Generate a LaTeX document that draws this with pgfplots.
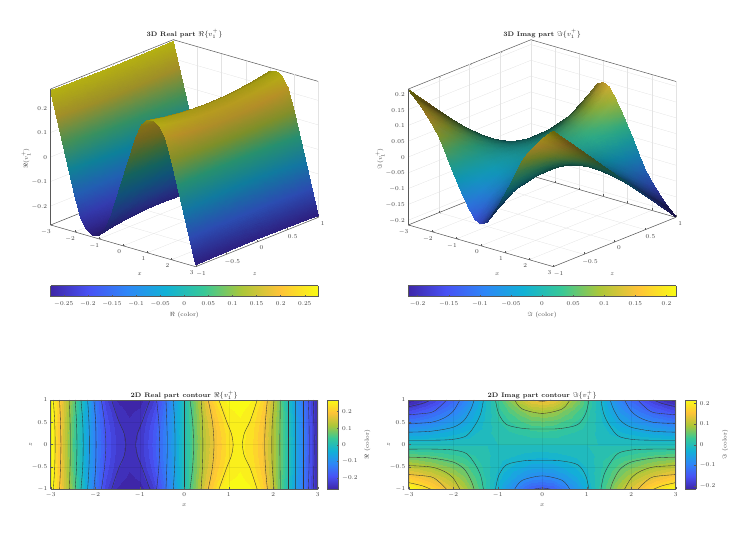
\documentclass[border=0pt]{standalone}
\usepackage{pgfplots}
\usepackage{pgfplotstable}
\pgfplotsset{compat=1.18}
\pgfplotsset{colormap={parula}{rgb=(.2422,.1504,.6603) rgb=(.2810,.3228,.9579) rgb=(.1786,.5289,.9682) rgb=(.0689,.6948,.8394) rgb=(.2161,.7843,.5923) rgb=(.6720,.7793,.2227) rgb=(.9970,.7659,.2199) rgb=(.9769,.9839,.0805)}}
\tikzset{declare function={
 cl(\uu)=max(0,min(1,\uu));
 parR(\tt)=.2422+.0388*cl(7*\tt)-.1024*cl(7*\tt-1)-.1097*cl(7*\tt-2)+.1472*cl(7*\tt-3)+.4559*cl(7*\tt-4)+.3250*cl(7*\tt-5)-.0201*cl(7*\tt-6);
 parG(\tt)=.1504+.1724*cl(7*\tt)+.2061*cl(7*\tt-1)+.1659*cl(7*\tt-2)+.0895*cl(7*\tt-3)-.0050*cl(7*\tt-4)-.0134*cl(7*\tt-5)+.2180*cl(7*\tt-6);
 parB(\tt)=.6603+.2976*cl(7*\tt)+.0103*cl(7*\tt-1)-.1288*cl(7*\tt-2)-.2471*cl(7*\tt-3)-.3696*cl(7*\tt-4)-.0028*cl(7*\tt-5)-.1394*cl(7*\tt-6);
 lightR(\pa)=.52+.2*cl((abs(\pa)-.9)/.5);
}}
\newcommand\NX{(1.96*sin(60*\thisrow{a})*\thisrow{b})}
\newcommand\NY{(3.53*(.033-.177*cos(60*\thisrow{a})))}
\newcommand\LI{(cl(.3+.7*abs(.604*\NX-.718*\NY+.34)/sqrt(\NX*\NX+\NY*\NY+1)))}
\pgfplotstableread[row sep=\\]{
a b c\\
-3 1 .270\\ -3 .75 .268\\ -3 .5 .267\\ -3 .25 .266\\ -3 0 .265\\ -3 -.25 .266\\ -3 -.5 .267\\ -3 -.75 .268\\ -3 -1 .270\\
-2.75 1 .170\\ -2.75 .75 .166\\ -2.75 .5 .163\\ -2.75 .25 .161\\ -2.75 0 .160\\ -2.75 -.25 .161\\ -2.75 -.5 .163\\ -2.75 -.75 .166\\ -2.75 -1 .170\\
-2.5 1 .070\\ -2.5 .75 .061\\ -2.5 .5 .055\\ -2.5 .25 .051\\ -2.5 0 .050\\ -2.5 -.25 .051\\ -2.5 -.5 .055\\ -2.5 -.75 .061\\ -2.5 -1 .070\\
-2.25 1 -.030\\ -2.25 .75 -.034\\ -2.25 .5 -.038\\ -2.25 .25 -.039\\ -2.25 0 -.040\\ -2.25 -.25 -.039\\ -2.25 -.5 -.038\\ -2.25 -.75 -.034\\ -2.25 -1 -.030\\
-2 1 -.130\\ -2 .75 -.126\\ -2 .5 -.123\\ -2 .25 -.121\\ -2 0 -.120\\ -2 -.25 -.121\\ -2 -.5 -.123\\ -2 -.75 -.126\\ -2 -1 -.130\\
-1.75 1 -.215\\ -1.75 .75 -.202\\ -1.75 .5 -.193\\ -1.75 .25 -.187\\ -1.75 0 -.185\\ -1.75 -.25 -.187\\ -1.75 -.5 -.193\\ -1.75 -.75 -.202\\ -1.75 -1 -.215\\
-1.5 1 -.255\\ -1.5 .75 -.242\\ -1.5 .5 -.233\\ -1.5 .25 -.227\\ -1.5 0 -.225\\ -1.5 -.25 -.227\\ -1.5 -.5 -.233\\ -1.5 -.75 -.242\\ -1.5 -1 -.255\\
-1.25 1 -.270\\ -1.25 .75 -.258\\ -1.25 .5 -.250\\ -1.25 .25 -.245\\ -1.25 0 -.243\\ -1.25 -.25 -.245\\ -1.25 -.5 -.250\\ -1.25 -.75 -.258\\ -1.25 -1 -.270\\
-1 1 -.262\\ -1 .75 -.249\\ -1 .5 -.240\\ -1 .25 -.234\\ -1 0 -.232\\ -1 -.25 -.234\\ -1 -.5 -.240\\ -1 -.75 -.249\\ -1 -1 -.262\\
-.75 1 -.235\\ -.75 .75 -.215\\ -.75 .5 -.201\\ -.75 .25 -.193\\ -.75 0 -.190\\ -.75 -.25 -.193\\ -.75 -.5 -.201\\ -.75 -.75 -.215\\ -.75 -1 -.235\\
-.5 1 -.170\\ -.5 .75 -.156\\ -.5 .5 -.145\\ -.5 .25 -.139\\ -.5 0 -.137\\ -.5 -.25 -.139\\ -.5 -.5 -.145\\ -.5 -.75 -.156\\ -.5 -1 -.170\\
-.25 1 -.085\\ -.25 .75 -.079\\ -.25 .5 -.075\\ -.25 .25 -.073\\ -.25 0 -.072\\ -.25 -.25 -.073\\ -.25 -.5 -.075\\ -.25 -.75 -.079\\ -.25 -1 -.085\\
0 1 0\\ 0 .75 0\\ 0 .5 0\\ 0 .25 0\\ 0 0 0\\ 0 -.25 0\\ 0 -.5 0\\ 0 -.75 0\\ 0 -1 0\\
.25 1 .085\\ .25 .75 .079\\ .25 .5 .075\\ .25 .25 .073\\ .25 0 .072\\ .25 -.25 .073\\ .25 -.5 .075\\ .25 -.75 .079\\ .25 -1 .085\\
.5 1 .170\\ .5 .75 .156\\ .5 .5 .145\\ .5 .25 .139\\ .5 0 .137\\ .5 -.25 .139\\ .5 -.5 .145\\ .5 -.75 .156\\ .5 -1 .170\\
.75 1 .235\\ .75 .75 .215\\ .75 .5 .201\\ .75 .25 .193\\ .75 0 .190\\ .75 -.25 .193\\ .75 -.5 .201\\ .75 -.75 .215\\ .75 -1 .235\\
1 1 .262\\ 1 .75 .249\\ 1 .5 .240\\ 1 .25 .234\\ 1 0 .232\\ 1 -.25 .234\\ 1 -.5 .240\\ 1 -.75 .249\\ 1 -1 .262\\
1.25 1 .270\\ 1.25 .75 .258\\ 1.25 .5 .250\\ 1.25 .25 .245\\ 1.25 0 .243\\ 1.25 -.25 .245\\ 1.25 -.5 .250\\ 1.25 -.75 .258\\ 1.25 -1 .270\\
1.5 1 .255\\ 1.5 .75 .242\\ 1.5 .5 .233\\ 1.5 .25 .227\\ 1.5 0 .225\\ 1.5 -.25 .227\\ 1.5 -.5 .233\\ 1.5 -.75 .242\\ 1.5 -1 .255\\
1.75 1 .215\\ 1.75 .75 .202\\ 1.75 .5 .193\\ 1.75 .25 .187\\ 1.75 0 .185\\ 1.75 -.25 .187\\ 1.75 -.5 .193\\ 1.75 -.75 .202\\ 1.75 -1 .215\\
2 1 .130\\ 2 .75 .126\\ 2 .5 .123\\ 2 .25 .121\\ 2 0 .120\\ 2 -.25 .121\\ 2 -.5 .123\\ 2 -.75 .126\\ 2 -1 .130\\
2.25 1 .030\\ 2.25 .75 .034\\ 2.25 .5 .038\\ 2.25 .25 .039\\ 2.25 0 .040\\ 2.25 -.25 .039\\ 2.25 -.5 .038\\ 2.25 -.75 .034\\ 2.25 -1 .030\\
2.5 1 -.070\\ 2.5 .75 -.061\\ 2.5 .5 -.055\\ 2.5 .25 -.051\\ 2.5 0 -.050\\ 2.5 -.25 -.051\\ 2.5 -.5 -.055\\ 2.5 -.75 -.061\\ 2.5 -1 -.070\\
2.75 1 -.170\\ 2.75 .75 -.166\\ 2.75 .5 -.163\\ 2.75 .25 -.161\\ 2.75 0 -.160\\ 2.75 -.25 -.161\\ 2.75 -.5 -.163\\ 2.75 -.75 -.166\\ 2.75 -1 -.170\\
3 1 -.270\\ 3 .75 -.268\\ 3 .5 -.267\\ 3 .25 -.266\\ 3 0 -.265\\ 3 -.25 -.266\\ 3 -.5 -.267\\ 3 -.75 -.268\\ 3 -1 -.270\\
}\RealData
\pgfplotstableread[row sep=\\]{
a b c\\
-3 1 -.213\\ -3 .75 -.160\\ -3 .5 -.107\\ -3 .25 -.053\\ -3 0 0\\ -3 -.25 .053\\ -3 -.5 .107\\ -3 -.75 .160\\ -3 -1 .213\\
-2.75 1 -.195\\ -2.75 .75 -.146\\ -2.75 .5 -.098\\ -2.75 .25 -.049\\ -2.75 0 0\\ -2.75 -.25 .049\\ -2.75 -.5 .098\\ -2.75 -.75 .146\\ -2.75 -1 .195\\
-2.5 1 -.175\\ -2.5 .75 -.131\\ -2.5 .5 -.088\\ -2.5 .25 -.044\\ -2.5 0 0\\ -2.5 -.25 .044\\ -2.5 -.5 .088\\ -2.5 -.75 .131\\ -2.5 -1 .175\\
-2.25 1 -.150\\ -2.25 .75 -.113\\ -2.25 .5 -.075\\ -2.25 .25 -.038\\ -2.25 0 0\\ -2.25 -.25 .038\\ -2.25 -.5 .075\\ -2.25 -.75 .113\\ -2.25 -1 .150\\
-2 1 -.125\\ -2 .75 -.094\\ -2 .5 -.063\\ -2 .25 -.031\\ -2 0 0\\ -2 -.25 .031\\ -2 -.5 .063\\ -2 -.75 .094\\ -2 -1 .125\\
-1.75 1 -.095\\ -1.75 .75 -.071\\ -1.75 .5 -.048\\ -1.75 .25 -.024\\ -1.75 0 0\\ -1.75 -.25 .024\\ -1.75 -.5 .048\\ -1.75 -.75 .071\\ -1.75 -1 .095\\
-1.5 1 -.055\\ -1.5 .75 -.041\\ -1.5 .5 -.028\\ -1.5 .25 -.014\\ -1.5 0 0\\ -1.5 -.25 .014\\ -1.5 -.5 .028\\ -1.5 -.75 .041\\ -1.5 -1 .055\\
-1.25 1 -.010\\ -1.25 .75 -.008\\ -1.25 .5 -.005\\ -1.25 .25 -.003\\ -1.25 0 0\\ -1.25 -.25 .003\\ -1.25 -.5 .005\\ -1.25 -.75 .008\\ -1.25 -1 .010\\
-1 1 .030\\ -1 .75 .020\\ -1 .5 .012\\ -1 .25 .006\\ -1 0 0\\ -1 -.25 -.006\\ -1 -.5 -.012\\ -1 -.75 -.020\\ -1 -1 -.030\\
-.75 1 .070\\ -.75 .75 .043\\ -.75 .5 .025\\ -.75 .25 .011\\ -.75 0 0\\ -.75 -.25 -.011\\ -.75 -.5 -.025\\ -.75 -.75 -.043\\ -.75 -1 -.070\\
-.5 1 .105\\ -.5 .75 .065\\ -.5 .5 .037\\ -.5 .25 .016\\ -.5 0 0\\ -.5 -.25 -.016\\ -.5 -.5 -.037\\ -.5 -.75 -.065\\ -.5 -1 -.105\\
-.25 1 .136\\ -.25 .75 .084\\ -.25 .5 .048\\ -.25 .25 .021\\ -.25 0 0\\ -.25 -.25 -.021\\ -.25 -.5 -.048\\ -.25 -.75 -.084\\ -.25 -1 -.136\\
0 1 .145\\ 0 .75 .090\\ 0 .5 .051\\ 0 .25 .023\\ 0 0 0\\ 0 -.25 -.023\\ 0 -.5 -.051\\ 0 -.75 -.090\\ 0 -1 -.145\\
.25 1 .136\\ .25 .75 .084\\ .25 .5 .048\\ .25 .25 .021\\ .25 0 0\\ .25 -.25 -.021\\ .25 -.5 -.048\\ .25 -.75 -.084\\ .25 -1 -.136\\
.5 1 .105\\ .5 .75 .065\\ .5 .5 .037\\ .5 .25 .016\\ .5 0 0\\ .5 -.25 -.016\\ .5 -.5 -.037\\ .5 -.75 -.065\\ .5 -1 -.105\\
.75 1 .070\\ .75 .75 .043\\ .75 .5 .025\\ .75 .25 .011\\ .75 0 0\\ .75 -.25 -.011\\ .75 -.5 -.025\\ .75 -.75 -.043\\ .75 -1 -.070\\
1 1 .030\\ 1 .75 .020\\ 1 .5 .012\\ 1 .25 .006\\ 1 0 0\\ 1 -.25 -.006\\ 1 -.5 -.012\\ 1 -.75 -.020\\ 1 -1 -.030\\
1.25 1 -.010\\ 1.25 .75 -.008\\ 1.25 .5 -.005\\ 1.25 .25 -.003\\ 1.25 0 0\\ 1.25 -.25 .003\\ 1.25 -.5 .005\\ 1.25 -.75 .008\\ 1.25 -1 .010\\
1.5 1 -.055\\ 1.5 .75 -.041\\ 1.5 .5 -.028\\ 1.5 .25 -.014\\ 1.5 0 0\\ 1.5 -.25 .014\\ 1.5 -.5 .028\\ 1.5 -.75 .041\\ 1.5 -1 .055\\
1.75 1 -.095\\ 1.75 .75 -.071\\ 1.75 .5 -.048\\ 1.75 .25 -.024\\ 1.75 0 0\\ 1.75 -.25 .024\\ 1.75 -.5 .048\\ 1.75 -.75 .071\\ 1.75 -1 .095\\
2 1 -.125\\ 2 .75 -.094\\ 2 .5 -.063\\ 2 .25 -.031\\ 2 0 0\\ 2 -.25 .031\\ 2 -.5 .063\\ 2 -.75 .094\\ 2 -1 .125\\
2.25 1 -.150\\ 2.25 .75 -.113\\ 2.25 .5 -.075\\ 2.25 .25 -.038\\ 2.25 0 0\\ 2.25 -.25 .038\\ 2.25 -.5 .075\\ 2.25 -.75 .113\\ 2.25 -1 .150\\
2.5 1 -.175\\ 2.5 .75 -.131\\ 2.5 .5 -.088\\ 2.5 .25 -.044\\ 2.5 0 0\\ 2.5 -.25 .044\\ 2.5 -.5 .088\\ 2.5 -.75 .131\\ 2.5 -1 .175\\
2.75 1 -.195\\ 2.75 .75 -.146\\ 2.75 .5 -.098\\ 2.75 .25 -.049\\ 2.75 0 0\\ 2.75 -.25 .049\\ 2.75 -.5 .098\\ 2.75 -.75 .146\\ 2.75 -1 .195\\
3 1 -.213\\ 3 .75 -.160\\ 3 .5 -.107\\ 3 .25 -.053\\ 3 0 0\\ 3 -.25 .053\\ 3 -.5 .107\\ 3 -.75 .160\\ 3 -1 .213\\
}\ImagData
\definecolor{axgray}{gray}{0.35}
\definecolor{txgray}{gray}{0.25}
\newcommand{\smallf}{\fontsize{6}{7}\selectfont}
\pgfplotsset{
 common/.style={
  colormap name=parula,
  scale only axis,
  tick align=inside,
  major tick length=2pt,
  axis line style={axgray,line width=.5pt},
  every tick/.style={axgray,line width=.3pt},
  tick label style={font=\smallf,text=txgray},
  label style={font=\smallf,text=txgray},
  title style={font=\fontsize{6.6}{8}\selectfont\bfseries,text=black!85,inner sep=1pt},
  /pgf/number format/fixed,
  /pgf/number format/precision=2,
 },
 three/.style={
  common,
  anchor=origin,
  xmin=-3,xmax=3,ymin=-1,ymax=1,
  x={(24.17pt,-6.95pt)},y={(61.3pt,24.65pt)},
  xtick={-3,-2,-1,0,1,2,3},ytick={-1,-.5,0,.5,1},
  grid=major,
  major grid style={gray!22,line width=.3pt},
  xlabel={$x$},ylabel={$z$},
  tick pos=lower,
  ztick style={draw=none},
  title style={yshift=-6pt},
  xlabel style={xshift=30pt,yshift=-8pt},
  ylabel style={xshift=-19pt,yshift=-10pt},
  zlabel style={yshift=-6pt},
 },
 two/.style={
  common,
  anchor=south west,
  width=267pt,height=89.3pt,
  xmin=-3,xmax=3,ymin=-1,ymax=1,
  xtick={-3,-2,-1,0,1,2,3},ytick={-1,-.5,0,.5,1},
  xlabel={$x$},ylabel={$z$},
  xlabel style={yshift=0pt},ylabel style={yshift=-7pt},
  grid=major,major grid style={black,opacity=.07,line width=.3pt},
  axis on top,
  title style={yshift=-7pt},
  view={0}{90},
  tick pos=lower,
 },
 hbar/.style={
  common,
  anchor=south west,
  width=267.5pt,height=11pt,
  ymin=0,ymax=1,ytick=\empty,
  view={0}{90},
  point meta=x,
  xtick pos=lower,
  xlabel style={yshift=1pt},
  x tick label style={yshift=-1.5pt},
 },
 vbar/.style={
  common,
  anchor=south west,
  width=11.4pt,height=89.3pt,
  xmin=0,xmax=1,xtick=\empty,
  view={0}{90},
  point meta=y,
  yticklabel pos=right,
  ytick pos=right,
  ylabel near ticks,
  ylabel style={font=\smallf,text=txgray},
 },
 rl/.style={smooth,no marks,draw=black!80,line width=.35pt,forget plot},
}
\begin{document}
\begin{tikzpicture}[x=1pt,y=1pt]
\path[use as bounding box] (0,0) rectangle (750,533);
% 3D Real
\begin{axis}[three,at={(184.45pt,379.8pt)},z={(0pt,245pt)},zmin=-.2775,zmax=.2775,
 ztick={-.2,-.1,0,.1,.2},title={3D Real part $\Re\{v_1^+\}$},zlabel={$\Re(v_1^+)$}]
\addplot3[surf,shader=interp,z buffer=none,mesh/cols=9,mesh/color input=explicit mathparse,
 point meta={symbolic={lightR(\thisrow{a})*parR((\thisrow{c}+.2775)/.555),lightR(\thisrow{a})*parG((\thisrow{c}+.2775)/.555),lightR(\thisrow{a})*parB((\thisrow{c}+.2775)/.555)}}]
 table[x=a,y=b,z=c]{\RealData};
\end{axis}
% 3D Imag
\begin{axis}[three,at={(542.1pt,379.8pt)},z={(0pt,316pt)},zmin=-.215,zmax=.215,
 ztick={-.2,-.15,-.1,-.05,0,.05,.1,.15,.2},title={3D Imag part $\Im\{v_1^+\}$},zlabel={$\Im(v_1^+)$}]
\addplot3[surf,shader=interp,z buffer=none,mesh/cols=9,mesh/color input=explicit mathparse,
 point meta={symbolic={\LI*parR((\thisrow{c}+.215)/.43),\LI*parG((\thisrow{c}+.215)/.43),\LI*parB((\thisrow{c}+.215)/.43)}}]
 table[x=a,y=b,z=c]{\ImagData};
\end{axis}
% horizontal colour bars
\begin{axis}[hbar,at={(50.5pt,236.3pt)},xmin=-.2775,xmax=.2775,point meta min=-.2775,point meta max=.2775,
 xtick={-.25,-.2,-.15,-.1,-.05,0,.05,.1,.15,.2,.25},xlabel={$\Re$ (color)}]
\addplot3[surf,shader=interp,mesh/cols=2] coordinates {(-.2775,0,0)(.2775,0,0)(-.2775,1,0)(.2775,1,0)};
\end{axis}
\begin{axis}[hbar,at={(408.3pt,236.3pt)},xmin=-.215,xmax=.215,point meta min=-.215,point meta max=.215,
 xtick={-.2,-.15,-.1,-.05,0,.05,.1,.15,.2},xlabel={$\Im$ (color)}]
\addplot3[surf,shader=interp,mesh/cols=2] coordinates {(-.215,0,0)(.215,0,0)(-.215,1,0)(.215,1,0)};
\end{axis}
% 2D Real
\begin{axis}[two,at={(50.7pt,43.7pt)},title={2D Real part contour $\Re\{v_1^+\}$},point meta min=-.27,point meta max=.27]
\addplot3[contour filled={number=32},mesh/cols=9] table[x=a,y=b,z=c]{\RealData};
\addplot[rl] coordinates {(-2.94,-1)(-2.91,-.5)(-2.90,0)(-2.91,.5)(-2.94,1)};
\addplot[rl] coordinates {(-2.80,-1)(-2.78,-.5)(-2.77,0)(-2.78,.5)(-2.80,1)};
\addplot[rl] coordinates {(-2.58,-1)(-2.565,-.5)(-2.56,0)(-2.565,.5)(-2.58,1)};
\addplot[rl] coordinates {(-2.45,-1)(-2.42,-.5)(-2.41,0)(-2.42,.5)(-2.45,1)};
\addplot[rl] coordinates {(-2.32,-1)(-2.28,-.5)(-2.27,0)(-2.28,.5)(-2.32,1)};
\addplot[rl] coordinates {(-2.17,-1)(-2.14,-.5)(-2.13,0)(-2.14,.5)(-2.17,1)};
\addplot[rl] coordinates {(-2.03,-1)(-1.99,-.5)(-1.98,0)(-1.99,.5)(-2.03,1)};
\addplot[rl] coordinates {(-1.86,-1)(-1.79,-.5)(-1.76,0)(-1.79,.5)(-1.86,1)};
\addplot[rl] coordinates {(-1.63,-1)(-1.55,-.75)(-1.46,-.5)(-1.35,-.25)(-1.31,0)(-1.35,.25)(-1.46,.5)(-1.55,.75)(-1.63,1)};
\addplot[rl] coordinates {(-.77,-1)(-.86,-.75)(-.95,-.5)(-1.05,-.25)(-1.09,0)(-1.05,.25)(-.95,.5)(-.86,.75)(-.77,1)};
\addplot[rl] coordinates {(-.62,-1)(-.57,-.5)(-.55,0)(-.57,.5)(-.62,1)};
\addplot[rl] coordinates {(-.41,-1)(-.39,-.5)(-.38,0)(-.39,.5)(-.41,1)};
\addplot[rl] coordinates {(-.245,-1)(-.215,-.5)(-.205,0)(-.215,.5)(-.245,1)};
\addplot[rl] coordinates {(0,-1)(0,1)};
\addplot[rl] coordinates {(.13,-1)(.19,-.5)(.21,0)(.19,.5)(.13,1)};
\addplot[rl] coordinates {(.38,-1)(.41,-.5)(.42,0)(.41,.5)(.38,1)};
\addplot[rl] coordinates {(.54,-1)(.635,-.5)(.67,0)(.635,.5)(.54,1)};
\addplot[rl] coordinates {(.78,-1)(.87,-.75)(.96,-.5)(1.06,-.25)(1.1,0)(1.06,.25)(.96,.5)(.87,.75)(.78,1)};
\addplot[rl] coordinates {(1.64,-1)(1.56,-.75)(1.47,-.5)(1.35,-.25)(1.31,0)(1.35,.25)(1.47,.5)(1.56,.75)(1.64,1)};
\addplot[rl] coordinates {(1.87,-1)(1.825,-.5)(1.81,0)(1.825,.5)(1.87,1)};
\addplot[rl] coordinates {(2.02,-1)(1.98,-.5)(1.97,0)(1.98,.5)(2.02,1)};
\addplot[rl] coordinates {(2.16,-1)(2.15,0)(2.16,1)};
\addplot[rl] coordinates {(2.34,-1)(2.34,1)};
\addplot[rl] coordinates {(2.49,-1)(2.49,1)};
\addplot[rl] coordinates {(2.68,-1)(2.68,1)};
\addplot[rl] coordinates {(2.79,-1)(2.805,-.5)(2.81,0)(2.805,.5)(2.79,1)};
\addplot[rl] coordinates {(2.90,-1)(2.915,-.5)(2.92,0)(2.915,.5)(2.90,1)};
\end{axis}
\begin{axis}[vbar,at={(327.3pt,43.7pt)},ymin=-.27,ymax=.27,point meta min=-.27,point meta max=.27,
 ytick={-.2,-.1,0,.1,.2},ylabel={$\Re$ (color)}]
\addplot3[surf,shader=interp,mesh/cols=2] coordinates {(0,-.27,0)(1,-.27,0)(0,.27,0)(1,.27,0)};
\end{axis}
% 2D Imag
\begin{axis}[two,at={(408.7pt,43.7pt)},title={2D Imag part contour $\Im\{v_1^+\}$},point meta min=-.215,point meta max=.215]
\addplot3[contour filled={number=32},mesh/cols=9] table[x=a,y=b,z=c]{\ImagData};
% upper left
\addplot[rl] coordinates {(-3,.1)(-2.4,.1)(-2,.12)(-1.7,.2)(-1.5,.45)(-1.38,.7)(-1.32,1)};
\addplot[rl] coordinates {(-3,.28)(-2.5,.3)(-2,.39)(-1.75,.55)(-1.6,.8)(-1.53,1)};
\addplot[rl] coordinates {(-3,.47)(-2.5,.5)(-2.2,.6)(-2,.75)(-1.85,1)};
\addplot[rl] coordinates {(-3,.67)(-2.5,.72)(-2.3,.85)(-2.15,1)};
\addplot[rl] coordinates {(-3,.85)(-2.7,.92)(-2.5,1)};
% upper right
\addplot[rl] coordinates {(3,.1)(2.4,.1)(2,.12)(1.7,.2)(1.5,.45)(1.38,.7)(1.32,1)};
\addplot[rl] coordinates {(3,.28)(2.5,.3)(2,.39)(1.75,.55)(1.6,.8)(1.53,1)};
\addplot[rl] coordinates {(3,.47)(2.5,.5)(2.2,.6)(2,.75)(1.85,1)};
\addplot[rl] coordinates {(3,.67)(2.5,.72)(2.3,.85)(2.15,1)};
\addplot[rl] coordinates {(3,.85)(2.7,.92)(2.5,1)};
% lower left
\addplot[rl] coordinates {(-3,-.1)(-2.4,-.1)(-2,-.12)(-1.7,-.2)(-1.5,-.45)(-1.38,-.7)(-1.32,-1)};
\addplot[rl] coordinates {(-3,-.28)(-2.5,-.3)(-2,-.39)(-1.75,-.55)(-1.6,-.8)(-1.53,-1)};
\addplot[rl] coordinates {(-3,-.47)(-2.5,-.5)(-2.2,-.6)(-2,-.75)(-1.85,-1)};
\addplot[rl] coordinates {(-3,-.67)(-2.5,-.72)(-2.3,-.85)(-2.15,-1)};
\addplot[rl] coordinates {(-3,-.85)(-2.7,-.92)(-2.5,-1)};
% lower right
\addplot[rl] coordinates {(3,-.1)(2.4,-.1)(2,-.12)(1.7,-.2)(1.5,-.45)(1.38,-.7)(1.32,-1)};
\addplot[rl] coordinates {(3,-.28)(2.5,-.3)(2,-.39)(1.75,-.55)(1.6,-.8)(1.53,-1)};
\addplot[rl] coordinates {(3,-.47)(2.5,-.5)(2.2,-.6)(2,-.75)(1.85,-1)};
\addplot[rl] coordinates {(3,-.67)(2.5,-.72)(2.3,-.85)(2.15,-1)};
\addplot[rl] coordinates {(3,-.85)(2.7,-.92)(2.5,-1)};
% centre top
\addplot[rl] coordinates {(-1.05,1)(-.98,.7)(-.8,.45)(-.4,.36)(0,.35)(.4,.36)(.8,.45)(.98,.7)(1.05,1)};
\addplot[rl] coordinates {(-.62,1)(-.45,.8)(0,.7)(.45,.8)(.62,1)};
\addplot[rl] coordinates {(-.2,1)(0,.97)(.2,1)};
% centre bottom
\addplot[rl] coordinates {(-1.05,-1)(-.98,-.7)(-.8,-.45)(-.4,-.36)(0,-.35)(.4,-.36)(.8,-.45)(.98,-.7)(1.05,-1)};
\addplot[rl] coordinates {(-.62,-1)(-.45,-.8)(0,-.7)(.45,-.8)(.62,-1)};
\addplot[rl] coordinates {(-.2,-1)(0,-.97)(.2,-1)};
\end{axis}
\begin{axis}[vbar,at={(685pt,43.7pt)},ymin=-.215,ymax=.215,point meta min=-.215,point meta max=.215,
 ytick={-.2,-.1,0,.1,.2},ylabel={$\Im$ (color)}]
\addplot3[surf,shader=interp,mesh/cols=2] coordinates {(0,-.215,0)(1,-.215,0)(0,.215,0)(1,.215,0)};
\end{axis}
\end{tikzpicture}
\end{document}
